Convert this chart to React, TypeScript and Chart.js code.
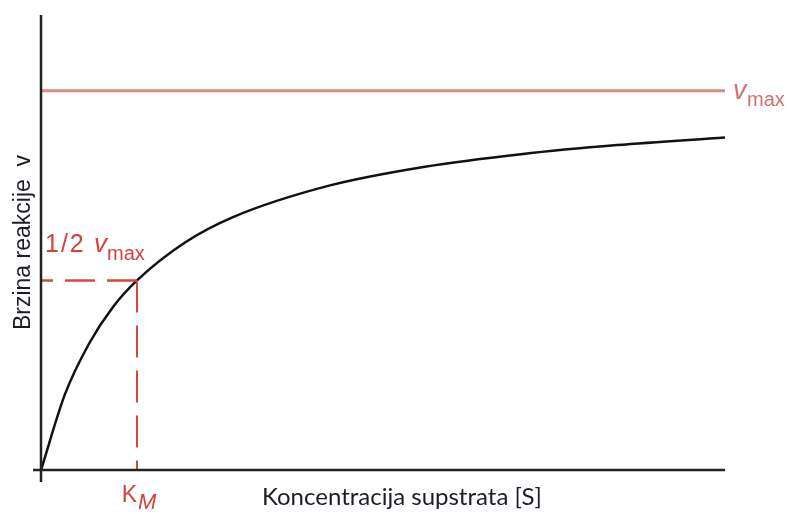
import React, { useEffect, useRef } from "react";
import { Chart, registerables } from "chart.js";

Chart.register(...registerables);

// Substrate concentration [S] (in units of K_M) and reaction rate v (in units of v_max)
const substrate = [0, 0.25, 0.5, 0.75, 1, 1.5, 2, 3, 4, 5, 6, 7.125];
const rate = [0, 0.2, 0.333, 0.43, 0.5, 0.6, 0.667, 0.75, 0.8, 0.833, 0.857, 0.877];
const vmaxValue = 1;
const kmValue = 1;
const xMax = 7.125;
const yMax = 1.2;

const yAxisTitle = "Brzina reakcije  v";
const xAxisTitle = "Koncentracija supstrata [S]";

export default function App() {
  const ref = useRef<HTMLCanvasElement | null>(null);

  useEffect(() => {
    if (!ref.current) return;
    const curve = substrate.map((s, i) => ({ x: s, y: rate[i] }));
    const ARIAL = "'Liberation Sans', Arial, sans-serif";

    const annotations = {
      id: "annotations",
      afterDatasetsDraw(chart: any) {
        const { ctx, chartArea, scales } = chart;
        const xs = scales.x;
        const ys = scales.y;
        const x0 = xs.getPixelForValue(0);
        const y0 = ys.getPixelForValue(0);
        ctx.save();
        // axes
        ctx.strokeStyle = "#222";
        ctx.lineWidth = 2.5;
        ctx.beginPath();
        ctx.moveTo(x0, chartArea.top);
        ctx.lineTo(x0, y0 + 12);
        ctx.moveTo(x0 - 8, y0);
        ctx.lineTo(xs.getPixelForValue(xMax), y0);
        ctx.stroke();

        ctx.textBaseline = "alphabetic";
        ctx.textAlign = "left";

        // v_max label
        const vmY = ys.getPixelForValue(vmaxValue);
        const vmX = xs.getPixelForValue(xMax) + 8;
        ctx.fillStyle = "#d4706f";
        ctx.font = `italic 27px ${ARIAL}`;
        ctx.fillText("v", vmX, vmY + 8);
        ctx.font = `20px ${ARIAL}`;
        ctx.fillText("max", vmX + 14, vmY + 15);

        // 1/2 v_max label
        const hx = x0 + 4;
        const hy = ys.getPixelForValue(vmaxValue / 2) - 28;
        ctx.fillStyle = "#d2423e";
        ctx.font = `25px ${ARIAL}`;
        (ctx as any).letterSpacing = "2px";
        ctx.fillText("1/2", hx, hy);
        (ctx as any).letterSpacing = "0px";
        ctx.font = `italic 26px ${ARIAL}`;
        ctx.fillText("v", hx + 49, hy);
        ctx.font = `20px ${ARIAL}`;
        ctx.fillText("max", hx + 62, hy + 8);

        // K_M label
        const kx = xs.getPixelForValue(kmValue);
        ctx.font = `23px ${ARIAL}`;
        ctx.textAlign = "right";
        ctx.fillText("K", kx, y0 + 32);
        ctx.textAlign = "left";
        ctx.font = `italic 22px ${ARIAL}`;
        ctx.fillText("M", kx + 1, y0 + 39);

        // axis titles
        ctx.fillStyle = "#1c1c28";
        ctx.font = "24px Lato, 'Open Sans', sans-serif";
        ctx.textAlign = "left";
        ctx.fillText(xAxisTitle, 262, y0 + 35);

        ctx.translate(30, ys.getPixelForValue(0.6));
        ctx.rotate(-Math.PI / 2);
        ctx.textAlign = "center";
        ctx.font = `23px ${ARIAL}`;
        ctx.fillText(yAxisTitle, 0, 0);
        ctx.restore();
      },
    };

    const chart = new Chart(ref.current, {
      type: "line",
      data: {
        datasets: [
          {
            data: [
              { x: 0, y: vmaxValue },
              { x: xMax, y: vmaxValue },
            ],
            borderColor: "#d98a8a",
            borderWidth: 3,
            pointRadius: 0,
          },
          {
            data: [
              { x: kmValue, y: vmaxValue / 2 },
              { x: 0, y: vmaxValue / 2 },
            ],
            borderColor: "#d6473f",
            borderWidth: 2.5,
            borderDash: [30, 12],
            pointRadius: 0,
          },
          {
            data: [
              { x: kmValue, y: vmaxValue / 2 },
              { x: kmValue, y: 0 },
            ],
            borderColor: "#d6473f",
            borderWidth: 2,
            borderDash: [32, 13],
            pointRadius: 0,
          },
          {
            data: curve,
            borderColor: "#111",
            borderWidth: 2.5,
            pointRadius: 0,
            cubicInterpolationMode: "monotone",
          },
        ],
      },
      options: {
        animation: false,
        responsive: false,
        devicePixelRatio: 1,
        layout: { padding: { left: 41, right: 62, top: 15, bottom: 44 } },
        plugins: { legend: { display: false }, tooltip: { enabled: false } },
        scales: {
          x: { type: "linear", min: 0, max: xMax, display: false },
          y: { type: "linear", min: 0, max: yMax, display: false },
        },
      },
      plugins: [annotations],
    });
    return () => chart.destroy();
  }, []);

  return (
    <div style={{ position: "absolute", left: 0, top: 0, width: 787, height: 514, background: "#fff" }}>
      <canvas ref={ref} width={787} height={514} />
    </div>
  );
}
